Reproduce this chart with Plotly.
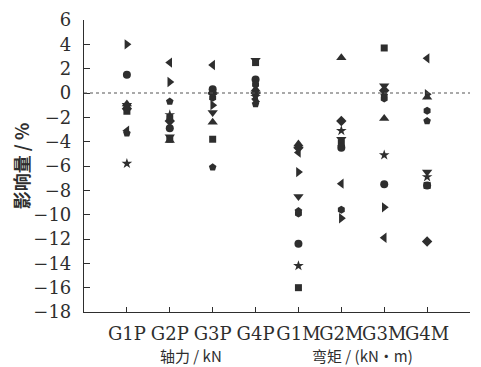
import plotly.graph_objects as go

categories = ["G1P", "G2P", "G3P", "G4P", "G1M", "G2M", "G3M", "G4M"]
y_ticks = list(range(-18, 7, 2))

# series values, one list per marker symbol (values in %)
s_tri_right = [4.0, 0.9, -1.0, -0.7, -6.5, -10.3, -9.4, -0.1]
s_circle = [1.5, -2.9, 0.3, 1.1, -12.4, -4.5, -7.5, -7.6]
s_tri_up = [-0.9, -3.9, -2.4, 0.3, -4.2, 2.9, -2.1, -0.35]
s_tri_down = [-1.0, -3.6, -1.6, 2.7, -8.5, -3.8, 0.6, -6.5]
s_tri_left = [-3.1, 2.5, 2.3, -0.5, -4.9, -7.45, -11.9, 2.85]
s_square = [-1.5, -3.8, -3.8, 2.5, -16.0, -4.1, 3.7, -7.6]
s_diamond = [-1.3, -2.3, 0.0, 0.0, -4.5, -2.3, 0.2, -12.2]
s_star = [-5.8, -1.8, -0.2, -0.3, -14.2, -3.1, -5.1, -6.9]
s_hexagon = [-1.1, -2.0, -0.4, 0.7, -9.9, -9.6, -0.45, -1.45]
s_pentagon = [-3.3, -0.7, -6.1, -0.9, -9.7, -4.4, -0.2, -2.3]

series = [
    ("triangle-right", s_tri_right, 9),
    ("circle", s_circle, 8),
    ("triangle-up", s_tri_up, 9),
    ("triangle-down", s_tri_down, 9),
    ("triangle-left", s_tri_left, 9),
    ("square", s_square, 7),
    ("diamond", s_diamond, 8),
    ("star", s_star, 8),
    ("hexagon", s_hexagon, 8),
    ("pentagon", s_pentagon, 8),
]

xpos = list(range(1, len(categories) + 1))
ink = "#2e2e2e"
serif = "DejaVu Serif"
cjk = "Noto Sans CJK SC"

fig = go.Figure()
for sym, vals, sz in series:
    fig.add_trace(go.Scatter(
        x=xpos, y=vals, mode="markers",
        marker=dict(symbol=sym, size=sz, color=ink, line=dict(width=0)),
        showlegend=False, hoverinfo="y",
    ))

fig.add_shape(type="line", xref="paper", x0=0, x1=1, yref="y", y0=0, y1=0,
              line=dict(color="#555", width=1.2, dash="3px,3px"))

# page body has an 8px margin, so the figure is sized to fit the 481x367 window
fig.update_layout(
    width=473, height=359,
    margin=dict(l=76, r=11, t=12, b=55),
    plot_bgcolor="white", paper_bgcolor="white",
    font=dict(family=serif, size=18, color=ink),
    xaxis=dict(
        range=[0, 9], tickmode="array",
        tickvals=xpos + [9], ticktext=categories + [""],
        tickangle=0, automargin=False,
        ticks="inside", ticklen=5, tickcolor=ink, tickwidth=1,
        showline=True, linecolor=ink, linewidth=1.2,
        showgrid=False, zeroline=False,
        tickfont=dict(family=serif, size=18, color=ink),
        ticklabelstandoff=5,
    ),
    yaxis=dict(
        range=[-18, 6], tickmode="array", tickvals=y_ticks,
        automargin=False,
        ticks="inside", ticklen=6, tickcolor=ink, tickwidth=1,
        showline=True, linecolor=ink, linewidth=1.2,
        showgrid=False, zeroline=False,
        tickfont=dict(family=serif, size=18, color=ink),
        ticklabelstandoff=8,
        title=dict(text="<b>影响量 / %</b>", font=dict(family=cjk, size=18, color=ink), standoff=10),
    ),
    annotations=[
        dict(text="轴力 / kN", x=2.5, xref="x", y=-0.148, yref="paper",
             yanchor="middle", showarrow=False,
             font=dict(family=cjk, size=15, color=ink)),
        dict(text="弯矩 / (kN·m)", x=6.5, xref="x", y=-0.148, yref="paper",
             yanchor="middle", showarrow=False,
             font=dict(family=cjk, size=15, color=ink)),
    ],
)

fig.write_html("out.html")
